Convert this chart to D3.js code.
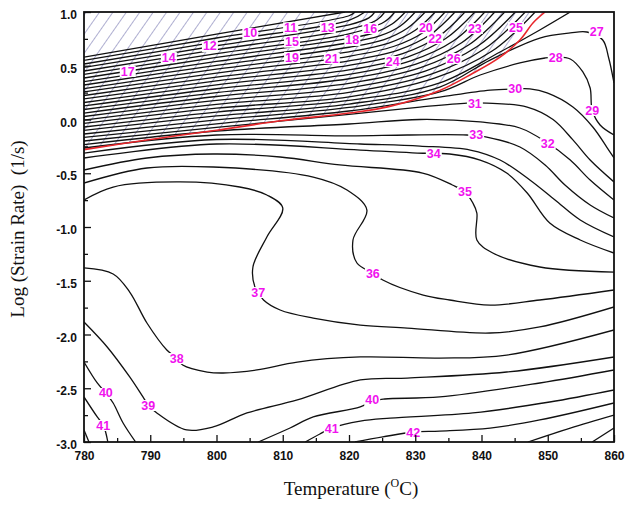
<!DOCTYPE html>
<html>
<head>
<meta charset="utf-8">
<script src="https://cdn.jsdelivr.net/npm/d3@7"></script>
<style>
  body { margin: 0; background: #fff; }
  text { font-family: "Liberation Sans", Arial, sans-serif; }
</style>
</head>
<body>
<svg id="chart" width="627" height="505"></svg>
<script>
// processing map: contour lines of power dissipation efficiency (%)
// points are [temperature (C), log strain rate]

const xMajor = [780, 790, 800, 810, 820, 830, 840, 850, 860];
const xMinor = [785, 795, 805, 815, 825, 835, 845, 855];
const yMajor = [1.0, 0.5, 0.0, -0.5, -1.0, -1.5, -2.0, -2.5, -3.0];
const yMinor = [0.75, 0.25, -0.25, -0.75, -1.25, -1.75, -2.25, -2.75];
const yTickLabels = ['1.0', '0.5', '0.0', '-0.5', '-1.0', '-1.5', '-2.0', '-2.5', '-3.0'];

// instability boundary (red)
const instability = [[780, -0.28], [789.5, -0.19], [800, -0.10], [810, -0.01], [820, 0.06],
  [826, 0.12], [833.7, 0.27], [838.7, 0.43], [842.8, 0.58], [845.8, 0.74], [847.8, 0.90], [849.6, 1.0]];

// dense family in the unstable corner, ending on the top edge
const upperLines = [
  [[780, 0.581], [800, 0.794], [819.4, 1.0]],
  [[780, 0.549], [800, 0.758], [820, 0.965], [820.9, 1.0]],
  [[780, 0.516], [800, 0.722], [820, 0.923], [822.4, 1.0]],
  [[780, 0.484], [800, 0.686], [820, 0.881], [823.0, 0.945], [823.9, 1.0]],
  [[780, 0.451], [800, 0.649], [820, 0.839], [824.2, 0.926], [825.4, 1.0]],
  [[780, 0.419], [800, 0.613], [820, 0.797], [825.3, 0.907], [826.9, 1.0]],
  [[780, 0.386], [800, 0.577], [820, 0.755], [823.9, 0.809], [826.5, 0.888], [828.5, 1.0]],
  [[780, 0.353], [800, 0.540], [820, 0.714], [824.6, 0.777], [827.7, 0.868], [830.0, 1.0]],
  [[780, 0.321], [800, 0.504], [820, 0.672], [825.3, 0.744], [828.8, 0.849], [831.5, 1.0]],
  [[780, 0.288], [800, 0.468], [820, 0.630], [826.0, 0.711], [830.0, 0.830], [833.0, 1.0]],
  [[780, 0.256], [800, 0.432], [820, 0.588], [826.7, 0.679], [831.2, 0.810], [834.5, 1.0]],
  [[780, 0.223], [800, 0.395], [820, 0.546], [827.4, 0.646], [832.3, 0.791], [836.0, 1.0]],
  [[780, 0.191], [800, 0.359], [820, 0.504], [828.1, 0.613], [833.5, 0.772], [837.5, 1.0]],
  [[780, 0.158], [800, 0.323], [820, 0.462], [828.8, 0.581], [834.6, 0.753], [839.0, 1.0]],
  [[780, 0.126], [800, 0.286], [820, 0.420], [829.4, 0.548], [835.8, 0.733], [840.5, 1.0]],
  [[780, 0.093], [800, 0.250], [820, 0.379], [830.1, 0.515], [837.0, 0.714], [842.0, 1.0]],
  [[780, 0.060], [800, 0.214], [820, 0.337], [830.8, 0.483], [838.1, 0.695], [843.5, 1.0]],
  [[780, 0.028], [800, 0.178], [820, 0.295], [831.5, 0.450], [839.3, 0.676], [845.1, 1.0]],
  [[780, -0.005], [800, 0.141], [820, 0.253], [832.2, 0.417], [840.4, 0.656], [846.6, 1.0]],
  [[780, -0.037], [800, 0.105], [820, 0.211], [832.9, 0.385], [841.6, 0.637], [848.1, 1.0]]
];

// lines that cross the boundary and bend down to the right edge
const crossingLines = [
  [[780, -0.070], [800, 0.069], [820, 0.177], [833.7, 0.340], [842.8, 0.628], [848.8, 0.833], [853.4, 1.0]],
  [[780, -0.102], [800, 0.033], [820, 0.144], [833.7, 0.302], [841.3, 0.553], [848.8, 0.758], [853.4, 0.805],
    [855.9, 0.814], [858.3, 0.740], [859.2, 0.572], [860, 0.340]],
  [[780, -0.135], [800, -0.004], [820, 0.112], [833.7, 0.256], [839.8, 0.414], [845.8, 0.526], [849.6, 0.572],
    [851.4, 0.581], [853.4, 0.563], [855.3, 0.442], [856.4, 0.293], [856.7, 0.088], [857.9, -0.051], [860, -0.144]],
  [[780, -0.167], [800, -0.040], [820, 0.079], [833.7, 0.209], [841.3, 0.274], [845.1, 0.284], [847.3, 0.284],
    [849.9, 0.247], [853.8, 0.116], [856.8, -0.07], [858.9, -0.256], [860, -0.358]],
  [[780, -0.200], [800, -0.074], [820, 0.047], [830.7, 0.116], [837.8, 0.153], [840.8, 0.153], [846.9, 0.116],
    [850.8, 0.0], [853.8, -0.19], [856.4, -0.377], [860, -0.581]],
  [[780, -0.233], [800, -0.107], [820, -0.042], [830.7, 0.0], [839.8, -0.023], [845.8, -0.079], [850, -0.219],
    [853.4, -0.377], [856.4, -0.563], [860, -0.749]],
  [[780, -0.265], [800, -0.144], [820, -0.153], [828.8, -0.144], [837.8, -0.144], [840.8, -0.163], [845.8, -0.256],
    [849.6, -0.423], [852.6, -0.609], [856.4, -0.795], [860, -0.916]],
  [[780, -0.312], [800, -0.186], [821.7, -0.228], [830.7, -0.247], [838.3, -0.284], [842.8, -0.377], [847.3, -0.563],
    [851.1, -0.749], [854.9, -0.935], [860, -1.093]],
  [[780, -0.358], [800, -0.228], [821.7, -0.284], [830.3, -0.312], [835.2, -0.321], [839.8, -0.377], [843.8, -0.498],
    [846.9, -0.684], [850.3, -0.963], [854.9, -1.121], [860, -1.242]]
];

// 35, 36, 37 with their S-shaped bends
const middleLines = [
  [[780, -0.47], [789.5, -0.358], [799.5, -0.321], [809.6, -0.349], [818.6, -0.423], [831.1, -0.498], [835.6, -0.609],
    [837.5, -0.674], [838.7, -0.777], [839.3, -0.870], [839.3, -1.121], [841.7, -1.242], [848.8, -1.372], [860, -1.419]],
  [[780, -0.591], [789.5, -0.451], [799.5, -0.442], [814.6, -0.535], [819.7, -0.656], [822.7, -0.842], [820.6, -1.121],
    [821.2, -1.335], [823.6, -1.428], [825.1, -1.493], [831.2, -1.633], [835.2, -1.679], [841.3, -1.726],
    [848.8, -1.679], [860, -1.586]],
  [[780, -0.749], [784.4, -0.628], [794.5, -0.581], [803.5, -0.628], [807.6, -0.702], [810, -0.823], [807.6, -1.093],
    [805.5, -1.372], [805.8, -1.558], [806.3, -1.605], [807.1, -1.679], [809.6, -1.772], [814.6, -1.847],
    [821.7, -1.912], [828.8, -1.940], [841.3, -1.986], [848.8, -1.930], [860, -1.744]]
];

// 38 to 42 and the lines near the bottom edge
const lowerLines = [
  [[780, -1.381], [784.4, -1.437], [786.9, -1.605], [789.5, -1.893], [792.5, -2.144], [794, -2.219], [794.9, -2.284],
    [798.6, -2.349], [801, -2.358], [806.1, -2.330], [812.2, -2.256], [821.7, -2.209], [833.7, -2.219],
    [843.8, -2.191], [860, -1.958]],
  [[780, -1.884], [783.5, -2.116], [786.9, -2.395], [788.9, -2.581], [789.7, -2.656], [791, -2.730], [795.5, -2.888],
    [799.5, -2.860], [804.6, -2.730], [812.2, -2.609], [821.7, -2.423], [828.8, -2.405], [843.8, -2.349], [860, -2.209]],
  [[780, -2.256], [782, -2.451], [783.3, -2.544], [784.4, -2.637], [785.9, -2.823], [787.8, -3.0]],
  [[780, -2.581], [782, -2.767], [782.9, -2.842], [783.3, -2.916], [783.6, -3.0]],
  [[780, -2.888], [780.75, -3.0]],
  [[806.3, -3.0], [811.1, -2.870], [814.6, -2.767], [821.7, -2.674], [823.5, -2.619], [825.4, -2.600], [833.7, -2.581],
    [848.8, -2.451], [860, -2.330]],
  [[813.4, -3.0], [815.6, -2.926], [817.4, -2.870], [821.7, -2.805], [826.2, -2.777], [838.7, -2.730], [850.3, -2.628],
    [860, -2.516]],
  [[820.9, -3.0], [825.1, -2.953], [829.7, -2.907], [833.7, -2.898], [841.3, -2.870], [848.8, -2.795], [860, -2.637]],
  [[847, -3.0], [853.4, -2.870], [860, -2.749]],
  [[856.7, -3.0], [860, -2.870]]
];

// contour labels: [text, temperature, log strain rate]
const labels = [
  ['17', 786.6, 0.451], ['14', 792.8, 0.581], ['12', 799.0, 0.684], ['10', 805.1, 0.805],
  ['11', 811.2, 0.858], ['15', 811.4, 0.724], ['19', 811.4, 0.581], ['13', 816.8, 0.860],
  ['18', 820.5, 0.740], ['21', 817.4, 0.572], ['16', 823.2, 0.851], ['20', 831.6, 0.858],
  ['22', 833.0, 0.757], ['24', 826.6, 0.544], ['23', 839.0, 0.851], ['26', 835.8, 0.572],
  ['25', 845.2, 0.860], ['28', 851.2, 0.581], ['27', 857.4, 0.814], ['30', 845.1, 0.293],
  ['31', 839.0, 0.153], ['29', 856.7, 0.088], ['33', 839.2, -0.144], ['32', 850.0, -0.219],
  ['34', 832.8, -0.312], ['35', 837.5, -0.674], ['36', 823.6, -1.428], ['37', 806.3, -1.605],
  ['38', 794.0, -2.219], ['39', 789.7, -2.656], ['40', 783.3, -2.544], ['41', 782.9, -2.842],
  ['40', 823.5, -2.609], ['41', 817.4, -2.870], ['42', 829.7, -2.907]
];

const margin = { left: 84, top: 12, right: 13, bottom: 63 };
const W = 627, H = 505;
const svg = d3.select('#chart');

const x = d3.scaleLinear().domain([780, 860]).range([margin.left, W - margin.right]);
const y = d3.scaleLinear().domain([-3, 1]).range([H - margin.bottom, margin.top]);

const defs = svg.append('defs');
defs.append('clipPath').attr('id', 'plotClip')
  .append('rect')
  .attr('x', x(780)).attr('y', y(1))
  .attr('width', x(860) - x(780)).attr('height', y(-3) - y(1));

const hatch = defs.append('pattern')
  .attr('id', 'hatch')
  .attr('patternUnits', 'userSpaceOnUse')
  .attr('width', 11).attr('height', 11)
  .attr('patternTransform', 'rotate(35)');
hatch.append('line')
  .attr('x1', 0).attr('y1', 0).attr('x2', 0).attr('y2', 11)
  .attr('stroke', '#7878b2').attr('stroke-width', 1.2);

const plot = svg.append('g').attr('clip-path', 'url(#plotClip)');

const curve = d3.curveCatmullRom.alpha(0.5);
const line = d3.line().x((d) => x(d[0])).y((d) => y(d[1])).curve(curve);

// unstable region above the boundary
plot.append('path')
  .datum(instability)
  .attr('d', d3.area().x((d) => x(d[0])).y0((d) => y(d[1])).y1(y(1)).curve(curve))
  .attr('fill', 'url(#hatch)');

const allLines = upperLines.concat(crossingLines, middleLines, lowerLines);
plot.selectAll('path.contour')
  .data(allLines)
  .join('path')
  .attr('class', 'contour')
  .attr('d', line)
  .attr('fill', 'none')
  .attr('stroke', '#111')
  .attr('stroke-width', 1.3);

plot.append('path')
  .datum(instability)
  .attr('d', line)
  .attr('fill', 'none')
  .attr('stroke', '#e8262b')
  .attr('stroke-width', 1.6);

// labels sit on a small white patch like the original
const labelG = plot.selectAll('g.lab')
  .data(labels)
  .join('g')
  .attr('class', 'lab')
  .attr('transform', (d) => `translate(${x(d[1])},${y(d[2])})`);
labelG.append('text')
  .attr('text-anchor', 'middle')
  .attr('dy', '0.36em')
  .attr('font-size', 12.5)
  .attr('font-weight', 'bold')
  .attr('fill', '#f012ee')
  .text((d) => d[0]);
labelG.each(function () {
  const g = d3.select(this);
  const b = g.select('text').node().getBBox();
  g.insert('rect', 'text')
    .attr('x', b.x - 1).attr('y', b.y + 1.5)
    .attr('width', b.width + 2).attr('height', b.height - 3)
    .attr('fill', '#fff');
});

// axes, ticks pointing inward
const axisFont = (g) => g.selectAll('text')
  .attr('font-family', '"Liberation Sans", Arial, sans-serif')
  .attr('font-size', 12).attr('font-weight', 'bold').attr('fill', '#111');

svg.append('g')
  .attr('transform', `translate(0,${y(-3)})`)
  .call(d3.axisBottom(x).tickValues(xMajor).tickSize(-7).tickPadding(9).tickFormat(d3.format('d')))
  .call((g) => g.select('.domain').remove())
  .call(axisFont);
svg.append('g')
  .attr('transform', `translate(0,${y(-3)})`)
  .call(d3.axisBottom(x).tickValues(xMinor).tickSize(-4).tickFormat(''))
  .call((g) => g.select('.domain').remove());

svg.append('g')
  .attr('transform', `translate(${x(780)},0)`)
  .call(d3.axisLeft(y).tickValues(yMajor).tickSize(-7).tickPadding(7)
    .tickFormat((d, i) => yTickLabels[i]))
  .call((g) => g.select('.domain').remove())
  .call(axisFont)
  .call((g) => g.selectAll('text').attr('dy', '0.55em'));
svg.append('g')
  .attr('transform', `translate(${x(780)},0)`)
  .call(d3.axisLeft(y).tickValues(yMinor).tickSize(-4).tickFormat(''))
  .call((g) => g.select('.domain').remove());

svg.selectAll('.tick line').attr('stroke', '#111').attr('stroke-width', 1.3);

svg.append('rect')
  .attr('x', x(780)).attr('y', y(1))
  .attr('width', x(860) - x(780)).attr('height', y(-3) - y(1))
  .attr('fill', 'none').attr('stroke', '#111').attr('stroke-width', 1.8);

// axis titles
const xTitle = svg.append('text')
  .attr('x', (x(780) + x(860)) / 2 + 2).attr('y', 495)
  .attr('text-anchor', 'middle')
  .style('font-family', '"Liberation Serif", "Times New Roman", serif')
  .attr('font-size', 19).attr('fill', '#111');
xTitle.append('tspan').text('Temperature (');
xTitle.append('tspan').attr('font-size', 12).attr('dy', -8).text('O');
xTitle.append('tspan').attr('dy', 8).text('C)');

svg.append('text')
  .attr('transform', `translate(24,${(y(1) + y(-3)) / 2 + 2}) rotate(-90)`)
  .attr('text-anchor', 'middle')
  .style('font-family', '"Liberation Serif", "Times New Roman", serif')
  .attr('font-size', 19).attr('fill', '#111')
  .attr('xml:space', 'preserve')
  .text('Log (Strain Rate)  (1/s)');
</script>
</body>
</html>
